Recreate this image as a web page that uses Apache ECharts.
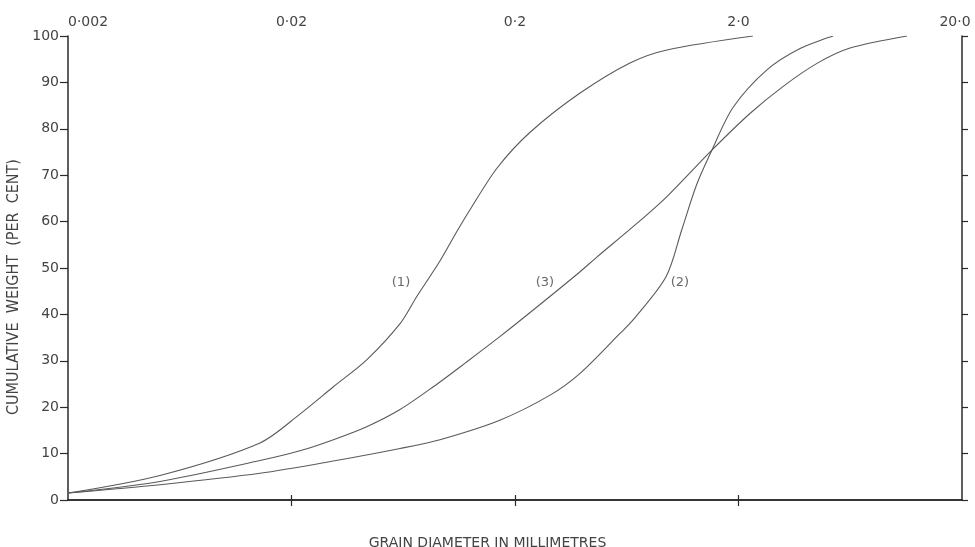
<!DOCTYPE html>
<html>
<head>
<meta charset="utf-8">
<script src="https://cdn.jsdelivr.net/npm/echarts@6/dist/echarts.min.js"></script>
<style>
  html, body { margin: 0; padding: 0; background: #fff; }
  #chart { width: 975px; height: 547px; }
</style>
</head>
<body>
<div id="chart"></div>
<script>
// ---- data ----
const tickValues = [0.002, 0.02, 0.2, 2, 20];
const tickLabels = ['0·002', '0·02', '0·2', '2·0', '20·0'];
const innerTickValues = [0.02, 0.2, 2];

const curve1Diam = [0.002, 0.00516, 0.01446, 0.0218, 0.0308, 0.0434, 0.0612, 0.0726, 0.0923, 0.1097, 0.126, 0.166, 0.233, 0.391, 0.654, 0.957, 2.32];
const curve1Pct  = [1.5,   5.3,     12.3,    18.5,   24.4,   30.2,   38.0,   43.8,   51.5,   57.8,   62.6,  71.5,  79.2,  87.7,  94.2,  97,    100];

const curve2Diam = [0.002, 0.00516, 0.01446, 0.0308, 0.0612, 0.0923, 0.171, 0.287, 0.391, 0.590, 0.675, 0.948, 1.114, 1.30, 1.52, 1.89, 2.68, 3.77, 5.3];
const curve2Pct  = [1.5,   3.3,     5.75,    8.4,    11.1,   13.0,   17.2,  22.6,  27.3,  35.9,  38.8,  48.1,  58.2,  68,   75.4, 84.6, 92.7, 97.3, 100];

const curve3Diam = [0.002, 0.00516, 0.01446, 0.0218, 0.0308, 0.0434, 0.0612, 0.0862, 0.1219, 0.171, 0.242, 0.391, 0.466, 0.675, 0.957, 1.52, 2.25, 3.16, 4.49, 6.31, 11.35];
const curve3Pct  = [1.5,   4.0,     8.5,     10.6,   13.0,   15.8,   19.5,   24.4,   29.8,   35.2,  41.0,  49.2,  52.4,  58.9,  65.4,  75.4, 83.3, 89.1, 94.1, 97.4, 100];

const curveNames  = ['(1)', '(3)', '(2)'];
const curveLabelD = [0.0618, 0.272, 1.094];
const curveLabelP = [46.8, 46.8, 46.8];

const yTitle = 'CUMULATIVE  WEIGHT  (PER  CENT)';
const xTitle = 'GRAIN DIAMETER IN MILLIMETRES';

// ---- chart ----
const axisColor = '#2a2a2a';
const textColor = '#444';
const lineColor = '#5a5a5a';

function pairs(d, p) { return d.map((v, i) => [v, p[i]]); }

const chart = echarts.init(document.getElementById('chart'), null, { renderer: 'canvas' });

const lineStyle = { color: lineColor, width: 1.1 };

chart.setOption({
  animation: false,
  backgroundColor: '#fff',
  title: {
    text: xTitle,
    left: 'center',
    top: 531,
    textStyle: { fontFamily: 'DejaVu Sans', fontSize: 14, fontWeight: 'normal', color: textColor }
  },
  grid: { left: 68, right: 13, top: 36, bottom: 47, outerBoundsMode: 'none' },
  xAxis: [
    {
      type: 'log', logBase: 10, min: 0.002, max: 20, position: 'bottom',
      axisLine: { show: true, lineStyle: { color: axisColor, width: 1.5 } },
      axisTick: { show: true, customValues: innerTickValues, length: 6, inside: false, lineStyle: { color: axisColor, width: 1.2 } },
      axisLabel: { show: false },
      splitLine: { show: false }, minorTick: { show: false }, minorSplitLine: { show: false }
    },
    {
      type: 'log', logBase: 10, min: 0.002, max: 20, position: 'top',
      axisLine: { show: true, lineStyle: { color: axisColor, width: 1.5 } },
      axisTick: { show: true, customValues: innerTickValues, length: 5, inside: false, lineStyle: { color: axisColor, width: 1.2 } },
      axisLabel: {
        show: true, customValues: tickValues, margin: 7,
        alignMinLabel: 'left',
        fontFamily: 'DejaVu Sans', fontSize: 14, color: textColor,
        rich: { last: { fontFamily: 'DejaVu Sans', fontSize: 14, color: textColor, padding: [0, 14, 0, 0] } },
        formatter: function (v) {
          let best = 0, bd = Infinity;
          tickValues.forEach((t, i) => { const dd = Math.abs(Math.log10(t) - Math.log10(v)); if (dd < bd) { bd = dd; best = i; } });
          return best === tickValues.length - 1 ? '{last|' + tickLabels[best] + '}' : tickLabels[best];
        }
      },
      splitLine: { show: false }
    }
  ],
  yAxis: [
    {
      type: 'value', min: 0, max: 100, interval: 10, position: 'left',
      name: yTitle, nameLocation: 'middle', nameGap: 46, nameRotate: 90,
      nameTextStyle: { fontFamily: 'Liberation Sans Narrow, DejaVu Sans Condensed, sans-serif', fontSize: 16, color: textColor, padding: [0, 38, 0, 0] },
      axisLine: { show: true, lineStyle: { color: axisColor, width: 1.5 } },
      axisTick: { show: true, length: 8, inside: false, lineStyle: { color: axisColor, width: 1.2 } },
      axisLabel: { show: true, margin: 9, fontFamily: 'DejaVu Sans', fontSize: 14, color: textColor },
      splitLine: { show: false }
    },
    {
      type: 'value', min: 0, max: 100, interval: 10, position: 'right',
      axisLine: { show: true, lineStyle: { color: axisColor, width: 1.5 } },
      axisTick: { show: true, length: 6, inside: false, lineStyle: { color: axisColor, width: 1.2 } },
      axisLabel: { show: false },
      splitLine: { show: false }
    }
  ],
  series: [
    { type: 'line', name: '(1)', data: pairs(curve1Diam, curve1Pct), smooth: 0.3, showSymbol: false, symbol: 'none', lineStyle: lineStyle, silent: true },
    { type: 'line', name: '(2)', data: pairs(curve2Diam, curve2Pct), smooth: 0.3, showSymbol: false, symbol: 'none', lineStyle: lineStyle, silent: true },
    { type: 'line', name: '(3)', data: pairs(curve3Diam, curve3Pct), smooth: 0.3, showSymbol: false, symbol: 'none', lineStyle: lineStyle, silent: true },
    {
      type: 'scatter', name: 'labels', symbolSize: 0, silent: true,
      data: curveNames.map((n, i) => ({ value: [curveLabelD[i], curveLabelP[i]], name: n })),
      label: { show: true, position: 'inside', formatter: p => p.name, fontFamily: 'DejaVu Sans', fontSize: 13, color: textColor }
    }
  ]
});
</script>
</body>
</html>
